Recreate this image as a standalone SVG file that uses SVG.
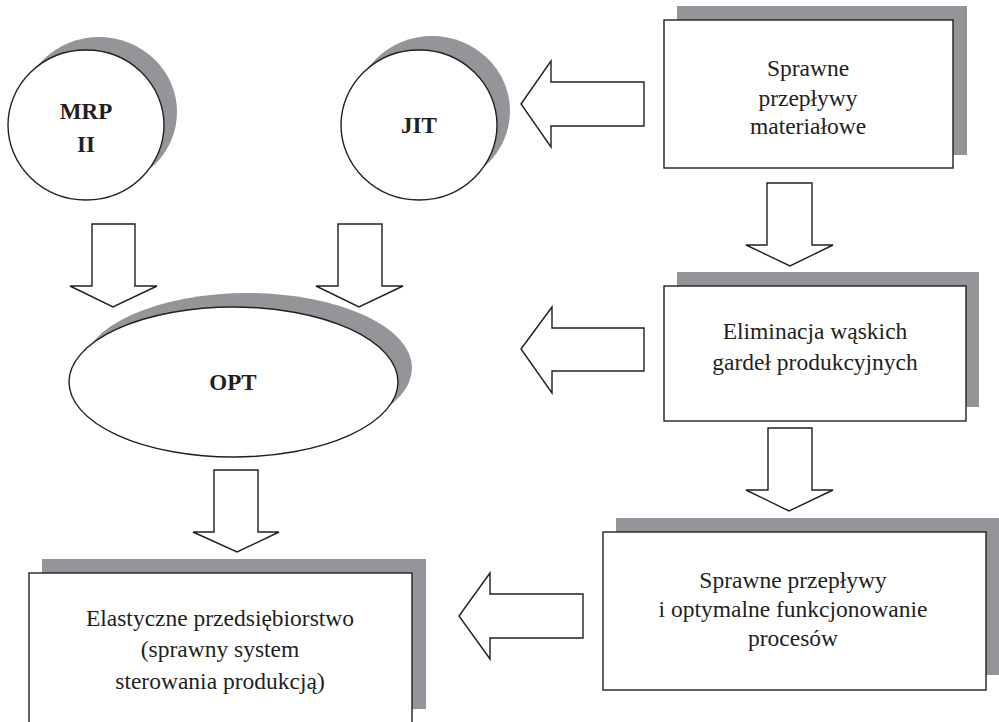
<svg xmlns="http://www.w3.org/2000/svg" width="999" height="722" viewBox="0 0 999 722">
<style>
.sh{fill:#939598;stroke:none}
.nd{fill:#fff;stroke:#231f20;stroke-width:1.4}
.ar{fill:#fff;stroke:#231f20;stroke-width:1.4;stroke-linejoin:miter}
.t{font-family:"Liberation Serif","Times New Roman",serif;font-size:23.5px;fill:#231f20;text-anchor:middle}
.b{font-family:"Liberation Serif","Times New Roman",serif;font-size:23px;font-weight:bold;fill:#231f20;text-anchor:middle}
</style>
<rect width="999" height="722" fill="#fff"/>
<g id="mrp">
<ellipse class="sh" cx="99" cy="112" rx="78" ry="75"/>
<ellipse class="nd" cx="86" cy="125" rx="78" ry="75"/>
<text class="b" x="86" y="119">MRP</text>
<text class="b" x="86" y="152">II</text>
</g>
<g id="jit">
<ellipse class="sh" cx="432" cy="111" rx="78" ry="75"/>
<ellipse class="nd" cx="419" cy="125" rx="78" ry="75"/>
<text class="b" x="419" y="133">JIT</text>
</g>
<g id="opt">
<ellipse class="sh" cx="247.5" cy="368" rx="164.5" ry="75"/>
<ellipse class="nd" cx="233.5" cy="382" rx="164.5" ry="75"/>
<text class="b" x="233" y="390">OPT</text>
</g>
<g id="box1">
<rect class="sh" x="677" y="6" width="290" height="149"/>
<rect class="nd" x="664" y="20" width="289" height="148"/>
<text class="t" x="808" y="76">Sprawne</text>
<text class="t" x="808" y="106">przepływy</text>
<text class="t" x="808" y="134">materiałowe</text>
</g>
<g id="box2">
<rect class="sh" x="677" y="272" width="302" height="135"/>
<rect class="nd" x="664" y="286" width="302" height="135"/>
<text class="t" x="815" y="339">Eliminacja wąskich</text>
<text class="t" x="815" y="370">gardeł produkcyjnych</text>
</g>
<g id="box3">
<rect class="sh" x="616" y="518" width="383" height="157"/>
<rect class="nd" x="603" y="532" width="383" height="158"/>
<text class="t" x="793" y="588">Sprawne przepływy</text>
<text class="t" x="793" y="617">i optymalne funkcjonowanie</text>
<text class="t" x="793" y="646">procesów</text>
</g>
<g id="box4">
<rect class="sh" x="42" y="559" width="384" height="150"/>
<rect class="nd" x="29" y="573" width="383" height="160"/>
<text class="t" x="220" y="626">Elastyczne przedsiębiorstwo</text>
<text class="t" x="220" y="657">(sprawny system</text>
<text class="t" x="220" y="689">sterowania produkcją)</text>
</g>
<g id="connectors">
<polygon class="ar" points="521,104 551,61 551,82 644,82 644,126 551,126 551,147"/>
<polygon class="ar" points="521,349 552,307 552,328 644,328 644,371 552,371 552,393"/>
<polygon class="ar" points="459,616 490,573 490,594 583,594 583,638 490,638 490,659"/>
<polygon class="ar" points="767,183 812,183 812,245 833,245 790,266 746,245 767,245"/>
<polygon class="ar" points="768,428 812,428 812,490 833,490 789,511 746,490 768,490"/>
<polygon class="ar" points="92,224 135,224 135,286 157,286 113,307 70,286 92,286"/>
<polygon class="ar" points="338,224 382,224 382,286 403,286 359,307 316,286 338,286"/>
<polygon class="ar" points="214,470 258,470 258,532 279,532 237,552 193,532 214,532"/>
</g>
</svg>
